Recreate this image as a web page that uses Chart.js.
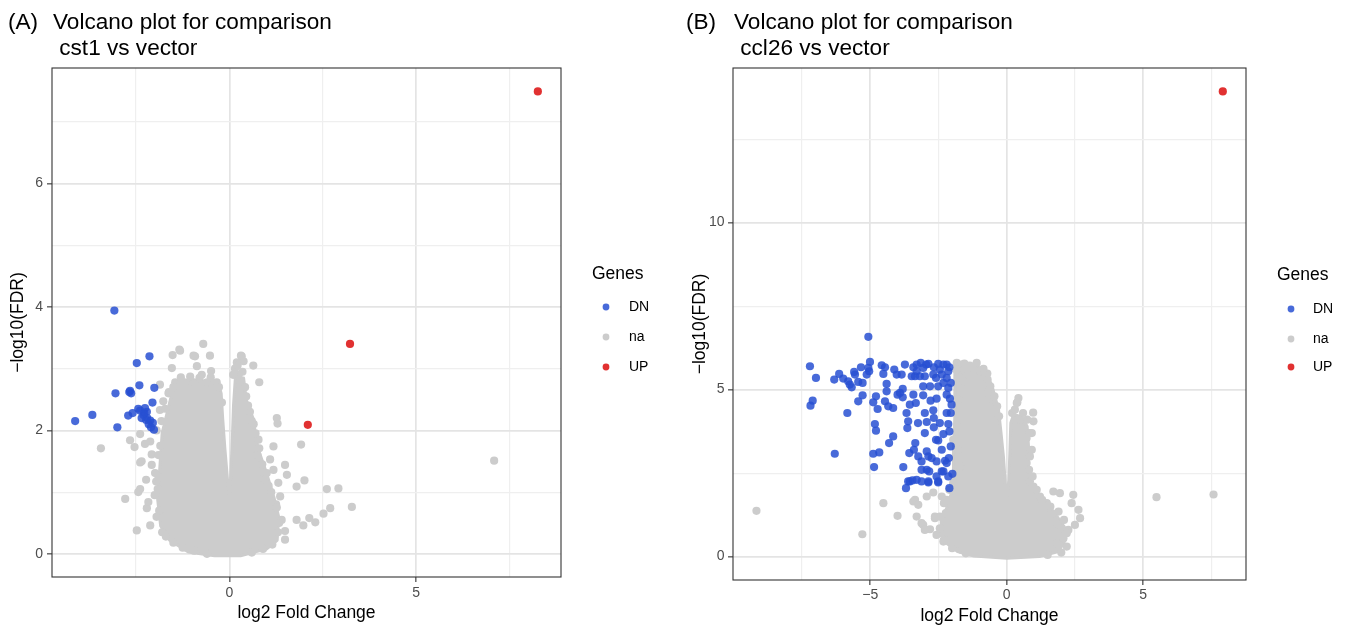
<!DOCTYPE html>
<html><head><meta charset="utf-8">
<script src="https://cdn.jsdelivr.net/npm/chart.js@4.4.1/dist/chart.umd.min.js"></script>
<style>
html,body{margin:0;padding:0;background:#fff;}
body{width:1352px;height:627px;position:relative;overflow:hidden;}
.panel{position:absolute;top:0;width:676px;height:627px;}
canvas{display:block;}
</style></head><body>
<div class="panel" style="left:0"><canvas id="cA" width="676" height="627"></canvas></div>
<div class="panel" style="left:676px"><canvas id="cB" width="676" height="627"></canvas></div>
<script>
// ---------- Panel A: cst1 vs vector ----------
const aDN = [[-3.08,3.94],[-2.14,3.20],[-2.48,3.09],[-2.41,2.73],[-2.01,2.69],[-2.66,2.64],[-2.63,2.60],[-3.05,2.60],[-2.06,2.45],[-2.44,2.35],[-2.26,2.36],[-2.59,2.28],[-2.71,2.24],[-2.30,2.25],[-2.20,2.20],[-3.67,2.25],[-4.13,2.15],[-3.00,2.05],[-2.05,2.12],[-2.02,2.01],[-2.12,2.16],[-2.23,2.17],[-2.35,2.20],[-2.21,2.30],[-2.39,2.32],[-2.68,2.62],[-2.16,2.10],[-2.28,2.28],[-2.10,2.05]];
const aUP = [[8.26,7.49],[3.23,3.40],[2.10,2.09]];
const aNA = [[-0.70,3.40],[-1.32,3.29],[-1.52,3.22],[-0.96,3.21],[-0.52,3.21],[0.31,3.21],[0.38,3.12],[0.64,3.05],[-1.54,3.01],[-0.49,2.96],[-0.87,3.04],[-0.74,2.90],[0.80,2.78],[1.27,2.20],[1.29,2.11],[1.92,1.77],[-3.44,1.71],[1.49,1.44],[1.54,1.28],[1.09,1.53],[1.00,1.31],[1.80,1.09],[2.01,1.19],[2.61,1.05],[2.92,1.06],[3.28,0.76],[2.70,0.74],[2.52,0.65],[2.14,0.58],[2.30,0.51],[1.98,0.46],[1.80,0.55],[1.40,0.55],[1.49,0.37],[1.49,0.23],[-2.79,0.89],[-2.48,0.38],[-2.12,0.46],[-2.21,0.74],[-2.17,0.84],[-2.44,1.00],[-2.39,1.05],[-2.23,1.20],[-2.39,1.48],[-2.66,1.84],[-2.54,1.73],[-2.26,1.78],[-2.08,1.61],[-2.08,1.44],[-1.99,1.31],[-1.96,1.17],[0.80,1.71],[0.78,1.85],[1.18,1.74],[0.87,1.34],[1.18,1.36],[1.31,1.15],[1.36,0.93],[7.09,1.51],[-1.86,2.74],[-1.63,2.60],[-1.77,2.47],[-1.86,2.33],[-2.39,1.94],[-2.12,1.82],[-2.35,1.50],[-1.45,2.78],[-1.20,2.78],[-0.95,2.78],[-0.60,2.78],[-0.34,2.78],[-1.34,3.31],[-0.92,3.20],[0.33,3.20],[-1.95,2.00],[-1.90,1.60],[-2.00,0.95],[-1.95,0.60],[-1.80,0.35],[1.05,1.10],[1.25,0.80],[0.55,2.30],[0.45,2.55],[0.65,2.10],[0.15,3.00],[0.25,2.90],
  [-1.88,0.70],[-1.92,1.05],[-1.90,1.25],[-1.85,1.75],[-1.82,2.15],[-1.72,2.35],[-1.62,2.62],[-1.50,2.70],[-1.70,0.28],[-1.50,0.18],[-1.25,0.10],[-0.95,0.05],[-0.60,0.00],[0.60,0.02],[0.90,0.08],[1.15,0.15],[1.30,0.35],[1.33,0.50],[1.27,0.75],[1.12,1.00],[0.95,1.20],[0.88,1.45],[0.75,1.60],[0.70,1.95],[0.60,2.15],[0.50,2.40],[0.42,2.70],[0.35,2.95],[0.20,3.10],[0.10,2.90],[0.22,3.05],[-1.30,2.86],[-1.05,2.87],[-0.80,2.85],[-0.50,2.86],[-0.28,2.70],[-0.20,2.45]];
const aNAcore = [[-1.45,2.80],[-0.32,2.80],[-0.22,2.60],[-0.18,2.20],[-0.12,1.70],[-0.05,1.20],[0.00,0.95],[0.03,1.20],[0.07,1.70],[0.11,2.40],[0.16,2.85],[0.38,2.85],[0.45,2.50],[0.63,2.20],[0.77,1.70],[1.00,1.30],[1.20,0.90],[1.32,0.60],[1.28,0.22],[1.00,0.08],[0.30,-0.03],[-0.40,-0.03],[-1.10,0.03],[-1.60,0.22],[-1.84,0.45],[-1.92,0.88],[-1.86,1.42],[-1.80,1.96],[-1.58,2.50],[-1.45,2.80]];

// ---------- Panel B: ccl26 vs vector ----------
const bDN = [[-5.07,6.58],[-7.21,5.70],[-6.99,5.35],[-7.11,4.67],[-7.19,4.52],[-6.32,5.30],[-6.14,5.47],[-5.99,5.33],[-5.81,5.25],[-5.59,5.53],[-5.68,5.07],[-5.44,5.23],[-5.34,5.67],[-5.28,5.20],[-5.07,5.65],[-5.01,5.83],[-5.13,5.45],[-5.84,4.30],[-5.44,4.65],[-5.28,4.83],[-6.30,3.08],[-4.89,4.62],[-4.79,4.80],[-4.73,4.42],[-4.83,3.97],[-4.79,3.77],[-4.89,3.08],[-4.67,3.12],[-4.86,2.68],[-4.58,5.73],[-4.46,5.67],[-4.52,5.47],[-4.40,5.17],[-4.40,4.95],[-4.46,4.65],[-4.34,4.50],[-4.16,4.45],[-4.16,3.60],[-4.31,3.40],[-4.12,5.60],[-4.03,5.45],[-3.73,5.75],[-3.85,5.45],[-4.00,4.85],[-3.91,4.90],[-3.81,4.77],[-3.81,5.02],[-3.79,2.68],[-3.67,4.30],[-3.61,4.05],[-3.64,3.85],[-3.55,4.55],[-3.42,4.85],[-3.33,4.60],[-3.57,3.10],[-3.40,3.20],[-3.24,3.00],[-3.12,2.85],[-2.93,2.60],[-2.84,2.55],[-3.12,2.60],[-3.61,2.25],[-3.45,2.28],[-3.30,2.30],[-3.12,2.25],[-3.69,2.05],[-2.87,2.25],[-2.51,2.25],[-2.10,2.05],[-1.99,2.48],[-2.14,2.40],[-2.32,2.55],[-2.26,2.87],[-2.20,2.80],[-2.38,3.20],[-2.59,3.50],[-2.51,3.48],[-2.32,3.67],[-2.67,3.87],[-3.00,3.70],[-2.93,4.03],[-2.67,4.15],[-2.20,4.30],[-2.14,3.97],[-2.69,4.38],[-2.79,4.67],[-2.57,4.73],[-3.06,4.83],[-2.20,4.85],[-2.08,4.73],[-2.02,4.55],[-2.14,5.05],[-2.32,5.20],[-2.51,5.10],[-2.59,5.35],[-2.69,5.45],[-2.38,5.45],[-2.20,5.35],[-2.14,5.55],[-2.10,5.67],[-2.32,5.75],[-2.51,5.77],[-2.67,5.67],[-2.87,5.77],[-3.06,5.65],[-3.15,5.80],[-3.30,5.75],[-3.42,5.67],[-3.36,5.40],[-3.18,5.40],[-3.00,5.40],[-3.48,5.40],[-3.06,5.10],[-2.81,5.10],[-5.04,5.55],[-5.56,5.45],[-5.75,5.15],[-2.57,2.85],[-2.38,2.55],[-2.57,2.40],[-2.87,3.00],[-2.75,2.95],[-2.93,3.15],[-3.55,2.25],[-2.87,2.22],[-2.51,2.22],[-3.30,5.55],[-2.95,5.75],[-2.45,5.60],[-2.20,5.75],[-2.05,5.20],[-2.05,4.30],[-2.10,3.75],[-2.05,3.30],[-2.12,2.95],[-3.25,4.00],[-3.00,4.30],[-3.35,3.40],[-2.45,4.00]];
const bUP = [[7.92,13.93]];
const bNA = [[-9.17,1.37],[-5.29,0.67],[-4.52,1.60],[-4.00,1.22],[-3.36,1.70],[-3.30,1.20],[-3.12,1.00],[-2.93,1.80],[-2.69,1.92],[-2.63,1.20],[-2.81,0.82],[-2.45,0.70],[-2.20,0.55],[-2.20,1.70],[-2.23,1.30],[-3.42,1.65],[-3.24,1.55],[-2.63,1.15],[-2.38,1.80],[-3.06,0.95],[-3.00,0.80],[-2.57,0.65],[-2.32,0.45],[-1.65,0.20],[-1.83,5.80],[-1.65,5.75],[-1.47,5.60],[-1.22,5.65],[-0.98,5.55],[-0.71,5.48],[-1.77,5.40],[-1.59,5.25],[-0.86,5.15],[-0.67,4.90],[-0.51,4.70],[-1.77,4.70],[-1.65,4.10],[-1.96,3.50],[-1.77,3.20],[-1.71,2.70],[-1.96,2.20],[0.43,4.75],[0.37,4.60],[0.49,4.10],[0.98,4.05],[0.92,3.70],[0.73,3.55],[0.92,3.20],[0.73,2.80],[0.85,2.25],[0.98,2.10],[1.22,1.80],[1.71,1.95],[1.95,1.90],[2.44,1.85],[2.38,1.60],[2.63,1.40],[2.69,1.15],[2.50,0.95],[2.26,0.80],[2.02,0.85],[1.83,1.00],[1.47,1.60],[1.65,1.30],[2.08,0.55],[1.83,0.40],[5.49,1.78],[7.58,1.86],[0.97,4.31],[0.39,4.62],
  [-1.85,5.60],[-1.55,5.78],[-1.35,5.72],[-1.10,5.80],[-0.85,5.62],[-0.70,5.30],[-0.60,5.10],[-0.45,4.80],[-0.35,4.50],[-0.28,4.20],[0.20,4.30],[0.30,4.40],[0.60,4.30],[0.75,4.10],[0.82,3.70],[0.85,3.00],[0.82,2.60],[0.95,2.40],[1.10,2.00],[1.30,1.70],[1.60,1.50],[1.90,1.35],[2.10,1.10],[2.20,0.70],[2.20,0.30],[2.00,0.12],[1.50,0.05],[-1.50,0.10],[-2.00,0.25],[-2.30,0.50],[-2.45,0.85],[-2.45,1.20],[-2.30,1.60],[-2.10,2.00]];
const bNAcore = [[-1.90,5.75],[-1.20,5.75],[-0.75,5.55],[-0.50,5.00],[-0.30,4.40],[-0.22,3.80],[-0.12,3.00],[-0.06,2.30],[0.00,1.70],[0.08,2.30],[0.12,3.20],[0.15,4.00],[0.25,4.25],[0.55,4.20],[0.75,3.90],[0.80,3.30],[0.78,2.70],[0.90,2.20],[1.15,1.80],[1.50,1.45],[1.85,1.20],[2.10,0.90],[2.15,0.50],[1.90,0.15],[1.20,0.00],[0.00,-0.05],[-1.20,0.02],[-1.80,0.15],[-2.20,0.40],[-2.40,0.70],[-2.40,1.10],[-2.20,1.45],[-2.05,1.85],[-1.95,2.30],[-1.95,3.20],[-1.90,4.20],[-1.90,5.00],[-1.90,5.75]];

// ---------- Ticks / labels ----------
const aXTicks = [-2.5, 0, 2.5, 5, 7.5];     const aXMajor = [0, 5];
const aYTicks = [0, 1, 2, 3, 4, 5, 6, 7];   const aYMajor = [0, 2, 4, 6];
const bXTicks = [-7.5, -5, -2.5, 0, 2.5, 5, 7.5]; const bXMajor = [-5, 0, 5];
const bYTicks = [0, 2.5, 5, 7.5, 10, 12.5]; const bYMajor = [0, 5, 10];
const legendLabels = ['DN', 'na', 'UP'];
const xTitle = 'log2 Fold Change';
const yTitle = '\u2212log10(FDR)';

const FONT = "'Liberation Sans', Arial, sans-serif";
const COL = { DN: 'rgba(40,80,210,0.85)', na: 'rgb(204,204,204)', UP: 'rgba(222,32,32,0.92)' };

const toXY = arr => arr.map(p => ({ x: p[0], y: p[1] }));
const fmt = v => (v < 0 ? '\u2212' + Math.abs(v) : String(v));

const deco = {
  id: 'deco',
  afterDatasetsDraw(chart) {
    const { ctx, chartArea: a } = chart;
    ctx.save();
    ctx.strokeStyle = '#333333';
    ctx.lineWidth = 1.1;
    ctx.strokeRect(a.left, a.top, a.right - a.left, a.bottom - a.top);
    ctx.restore();
  },
  afterDraw(chart, args, o) {
    const ctx = chart.ctx;
    ctx.save();
    ctx.fillStyle = '#000';
    ctx.textAlign = 'left';
    ctx.textBaseline = 'alphabetic';
    ctx.font = '22.6px ' + FONT;
    ctx.fillText(o.tag, o.tagX, o.base1);
    ctx.fillText(o.line1, o.titleX, o.base1);
    ctx.fillText(o.line2, o.titleX, o.base2);
    ctx.textBaseline = 'middle';
    ctx.font = '17.5px ' + FONT;
    ctx.fillText('Genes', o.legTitleX, o.legY[0]);
    ctx.font = '14px ' + FONT;
    legendLabels.forEach((lab, i) => {
      ctx.fillStyle = COL[lab];
      ctx.beginPath();
      ctx.arc(o.dotX, o.legY[i + 1], 3.4, 0, Math.PI * 2);
      ctx.fill();
      ctx.fillStyle = '#000';
      ctx.fillText(lab, o.textX, o.legY[i + 1]);
    });
    ctx.restore();
  }
};

function makeAxis(cfg) {
  const isMaj = v => cfg.major.includes(v);
  return {
    type: 'linear', position: cfg.pos, min: cfg.min, max: cfg.max,
    afterBuildTicks: s => { s.ticks = cfg.ticks.map(v => ({ value: v })); },
    afterFit: s => { if (cfg.pos === 'bottom') s.height = cfg.size; else s.width = cfg.size; },
    ticks: {
      autoSkip: false, maxRotation: 0, minRotation: 0,
      callback: v => (isMaj(v) ? fmt(v) : ''),
      font: { family: FONT, size: 14 }, color: '#4d4d4d', padding: cfg.labPad
    },
    grid: {
      color: c => (c.tick && isMaj(c.tick.value) ? '#e4e4e4' : '#efefef'),
      lineWidth: c => (c.tick && isMaj(c.tick.value) ? 1.7 : 1.2),
      tickColor: c => (c.tick && isMaj(c.tick.value) ? '#333333' : 'rgba(0,0,0,0)'),
      tickLength: 5, tickWidth: 1.1, drawTicks: true
    },
    border: { display: false },
    title: {
      display: true, text: cfg.title, color: '#000',
      font: { family: FONT, size: 17.5 },
      padding: cfg.titlePad
    }
  };
}

function makeChart(id, d) {
  return new Chart(document.getElementById(id), {
    type: 'scatter',
    data: {
      datasets: [
        { label: 'na core', data: toXY(d.core), showLine: true, fill: 'shape', tension: 0,
          backgroundColor: COL.na, borderColor: COL.na, borderWidth: 3, borderJoinStyle: 'round',
          pointRadius: 0, order: 4 },
        { label: 'na', data: toXY(d.na), backgroundColor: COL.na, borderWidth: 0, pointRadius: 4.1, order: 3 },
        { label: 'DN', data: toXY(d.dn), backgroundColor: COL.DN, borderWidth: 0, pointRadius: 4.1, order: 2 },
        { label: 'UP', data: toXY(d.up), backgroundColor: COL.UP, borderWidth: 0, pointRadius: 4.1, order: 1 }
      ]
    },
    options: {
      responsive: false, animation: false, events: [], devicePixelRatio: 1,
      layout: { padding: d.padding },
      scales: { x: makeAxis(d.x), y: makeAxis(d.y) },
      plugins: { legend: { display: false }, tooltip: { enabled: false }, deco: d.deco }
    },
    plugins: [deco]
  });
}

makeChart('cA', {
  core: aNAcore, na: aNA, dn: aDN, up: aUP,
  padding: { left: 0, top: 68, right: 115, bottom: 0 },
  x: { pos: 'bottom', min: -4.75, max: 8.88, ticks: aXTicks, major: aXMajor, size: 50, labPad: 2.5,
       title: xTitle, titlePad: { top: 0, bottom: 3.5 } },
  y: { pos: 'left', min: -0.375, max: 7.87, ticks: aYTicks, major: aYMajor, size: 52, labPad: 4,
       title: yTitle, titlePad: { top: 7.5, bottom: 0 } },
  deco: { tag: '(A)', tagX: 8, titleX: 53, line1: 'Volcano plot for comparison', line2: ' cst1 vs vector',
          base1: 29, base2: 55, legTitleX: 592, dotX: 606, textX: 629, legY: [274, 307, 337, 367] }
});

makeChart('cB', {
  core: bNAcore, na: bNA, dn: bDN, up: bUP,
  padding: { left: 0, top: 68, right: 106, bottom: 0 },
  x: { pos: 'bottom', min: -10.03, max: 8.77, ticks: bXTicks, major: bXMajor, size: 47, labPad: 2,
       title: xTitle, titlePad: { top: 0, bottom: 0 } },
  y: { pos: 'left', min: -0.7, max: 14.63, ticks: bYTicks, major: bYMajor, size: 57, labPad: 3.5,
       title: yTitle, titlePad: { top: 13.5, bottom: 0 } },
  deco: { tag: '(B)', tagX: 10, titleX: 58, line1: 'Volcano plot for comparison', line2: ' ccl26 vs vector',
          base1: 29, base2: 55, legTitleX: 601, dotX: 615, textX: 637, legY: [275, 309, 339, 367] }
});
</script>
</body></html>
